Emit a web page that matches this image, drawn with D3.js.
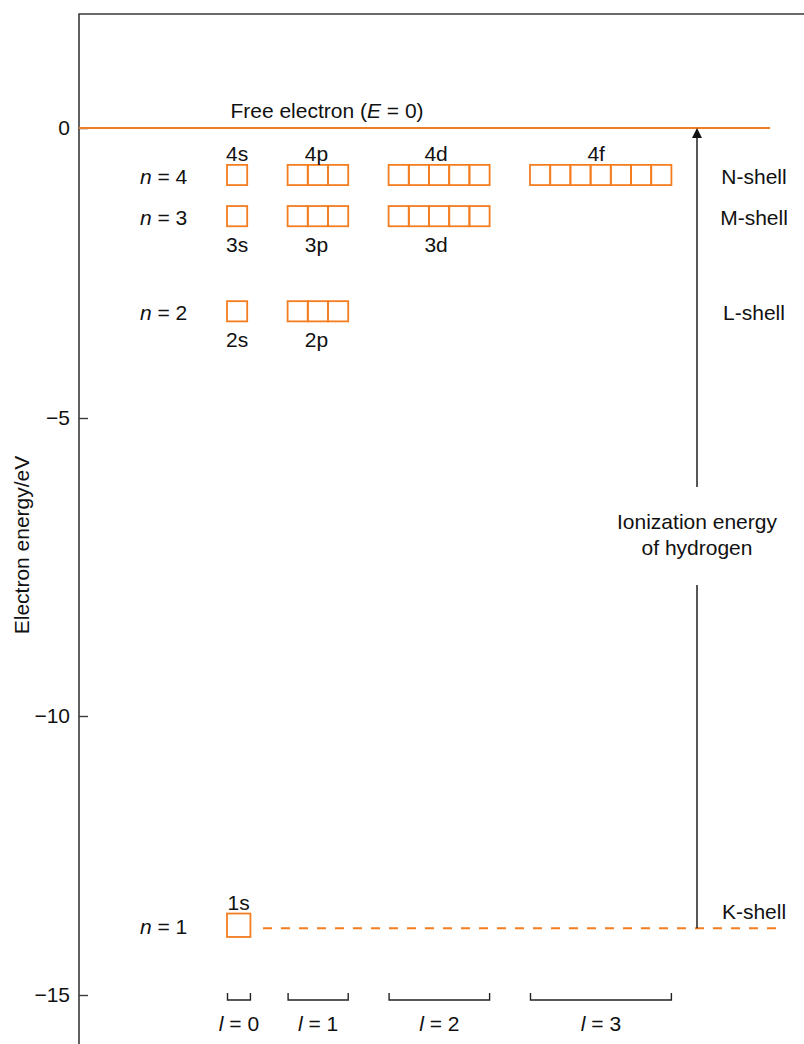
<!DOCTYPE html>
<html><head><meta charset="utf-8">
<script src="https://cdn.jsdelivr.net/npm/d3@7"></script>
<style>
body{margin:0;background:#fff}
text{font-family:"Liberation Sans",Arial,Helvetica,sans-serif;font-size:21px;fill:#111}
</style>
</head><body>
<svg id="c" width="804" height="1044"></svg>
<script>
// ---- data ----
const yTicks = [0, -5, -10, -15];
const nValues = [1, 2, 3, 4];
const levelEnergy = [-13.75, -3.16, -1.52, -0.81];   // eV, as drawn
const shellNames = ["K-shell", "L-shell", "M-shell", "N-shell"];
const subshellLetters = ["s", "p", "d", "f"];
const lValues = [0, 1, 2, 3];
const freeEnergy = 0;
const freeLabel = "Free electron";
const ionLabel = ["Ionization energy", "of hydrogen"];
const axisTitle = "Electron energy/eV";

// ---- layout ----
const W = 804, H = 1044;
const axisX = 79, topY = 14;
const svg = d3.select("#c");
const orange = "#f47d20";

// axis as drawn in the figure (tick spacing slightly uneven)
const y = d3.scaleLinear().domain([0, -5, -10, -15]).range([128, 418, 716, 995]);
// x scale in orbital-cell units
const x = d3.scaleLinear().domain([0, 1]).range([227, 247.2]);
const colStart = l => l * l + 2 * l;       // s:0, p:3, d:8, f:15
const nCells = l => 2 * l + 1;

// frame
svg.append("path").attr("d", `M${axisX},${H} V${topY} H${W}`)
  .attr("fill", "none").attr("stroke", "#3a3a3a").attr("stroke-width", 1.6);

// y axis
const ax = svg.append("g").attr("transform", `translate(${axisX},0)`)
  .call(d3.axisLeft(y).tickValues(yTicks).tickSize(-9).tickPadding(9)
    .tickFormat(d => d === 0 ? "0" : "\u2212" + Math.abs(d)));
ax.select(".domain").remove();
ax.selectAll(".tick line").attr("stroke", "#3a3a3a").attr("stroke-width", 1.4);
ax.selectAll(".tick text").attr("font-size", 21).attr("font-family", null).attr("fill", "#111");

svg.append("text").attr("transform", `translate(29,545) rotate(-90)`)
  .attr("text-anchor", "middle").text(axisTitle);

// free electron line
svg.append("line").attr("x1", axisX).attr("x2", 770)
  .attr("y1", y(freeEnergy)).attr("y2", y(freeEnergy))
  .attr("stroke", orange).attr("stroke-width", 2);
const ft = svg.append("text").attr("x", 327).attr("y", y(freeEnergy) - 10).attr("text-anchor", "middle");
ft.append("tspan").text(freeLabel + " (");
ft.append("tspan").attr("font-style", "italic").text("E");
ft.append("tspan").text(" = 0)");

// energy levels
nValues.forEach((n, i) => {
  const yc = y(levelEnergy[i]);
  const t = svg.append("text").attr("x", 140).attr("y", yc + 9);
  t.append("tspan").attr("font-style", "italic").text("n");
  t.append("tspan").text(" = " + n);
  svg.append("text").attr("x", 754).attr("y", yc + (n === 1 ? -6 : 9))
    .attr("text-anchor", "middle").text(shellNames[i]);
  lValues.filter(l => l < n).forEach(l => {
    const big = (n === 1);
    const size = big ? 1.16 : 1;
    const cells = d3.range(nCells(l));
    const s = x(size) - x(0);
    svg.append("g").selectAll("rect").data(cells).join("rect")
      .attr("x", c => x(colStart(l) + c))
      .attr("y", yc - s / 2)
      .attr("width", s).attr("height", s)
      .attr("fill", "none").attr("stroke", orange).attr("stroke-width", 1.8);
    let cx = (x(colStart(l)) + x(colStart(l) + nCells(l) * size)) / 2;
    if (l > 0) cx -= l * 1.5;
    const above = (n === 4 || n === 1);
    svg.append("text").attr("x", cx)
      .attr("y", above ? yc - s / 2 - 4 : yc + s / 2 + 26)
      .attr("text-anchor", "middle").text(n + subshellLetters[l]);
  });
});

// n = 1 dashed line
const y1 = y(levelEnergy[0]) + 3;
svg.append("line").attr("x1", 263).attr("x2", 776).attr("y1", y1).attr("y2", y1)
  .attr("stroke", orange).attr("stroke-width", 2).attr("stroke-dasharray", "9,9");

// ionization arrow
const arrowX = 697;
svg.append("line").attr("x1", arrowX).attr("x2", arrowX).attr("y1", y1).attr("y2", 585)
  .attr("stroke", "#111").attr("stroke-width", 1.4);
svg.append("line").attr("x1", arrowX).attr("x2", arrowX).attr("y1", 487).attr("y2", y(freeEnergy) + 9)
  .attr("stroke", "#111").attr("stroke-width", 1.4);
svg.append("path").attr("d", `M${arrowX},${y(freeEnergy)} l-5,10 h10 z`).attr("fill", "#111");
ionLabel.forEach((s, i) => {
  svg.append("text").attr("x", arrowX).attr("y", 529 + i * 26).attr("text-anchor", "middle").text(s);
});

// l brackets
const by = y(-15) - 2;
lValues.forEach(l => {
  const x0 = x(colStart(l)) + 0.5;
  const x1 = l === 0 ? x(1.16) : x(colStart(l) + nCells(l));
  svg.append("path").attr("d", `M${x0},${by} v7 H${x1} v-7`)
    .attr("fill", "none").attr("stroke", "#222").attr("stroke-width", 1.4);
  const t = svg.append("text").attr("x", (x0 + x1) / 2).attr("y", by + 38).attr("text-anchor", "middle");
  t.append("tspan").attr("font-style", "italic").text("l");
  t.append("tspan").text(" = " + l);
});
</script>
</body></html>
